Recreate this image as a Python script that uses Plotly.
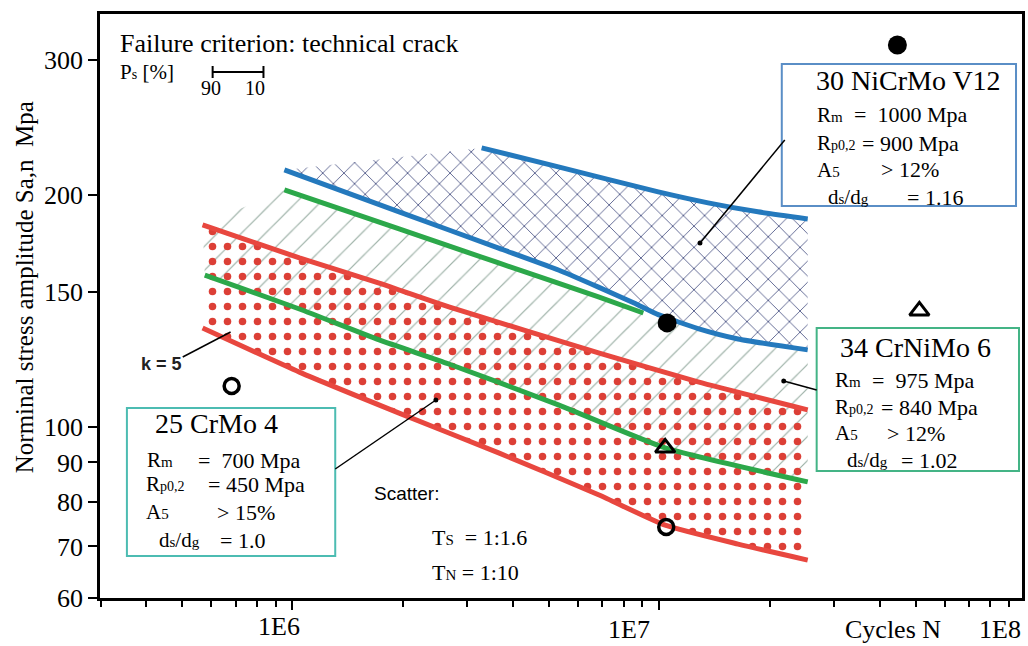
import math
import plotly.graph_objects as go

# ---- S-N scatter band limits: cycles N and nominal stress amplitude S (MPa) ----
# 30 NiCrMo V12
n_ni_upper = [3.28e6, 5.31e6, 9.94e6, 1.359e7, 1.858e7, 2.54e7]
s_ni_upper = [230.5, 217.8, 202.1, 195.6, 190.4, 186.4]
n_ni_lower = [9.51e5, 1.954e6, 3.65e6, 5.31e6, 6.83e6, 8.54e6, 9.94e6, 1.276e7, 1.64e7, 2.54e7]
s_ni_lower = [215.8, 190.4, 170.8, 160.0, 152.0, 145.0, 140.0, 134.3, 130.2, 126.0]
# 34 CrNiMo 6
n_crni_upper = [9.51e5, 1.954e6, 3.65e6, 6.83e6, 9.05e6]
s_crni_upper = [203.3, 180.9, 163.4, 147.6, 140.7]
n_crni_lower = [5.77e5, 1.045e6, 1.724e6, 2.67e6, 5.31e6, 1.038e7, 2.54e7]
s_crni_lower = [157.6, 142.4, 129.8, 120.8, 106.9, 94.0, 84.9]
# 25 CrMo 4
n_cr_upper = [5.69e5, 1.045e6, 1.724e6, 2.67e6, 6.83e6, 1.276e7, 2.54e7]
s_cr_upper = [183.1, 165.9, 153.9, 143.3, 124.9, 114.5, 105.3]
n_cr_lower = [5.69e5, 1.045e6, 1.954e6, 3.65e6, 6.83e6, 1.038e7, 1.64e7, 2.54e7]
s_cr_lower = [134.5, 117.9, 104.3, 92.6, 81.7, 74.6, 70.5, 67.2]

# ---- individual test results ----
n_solid = [4.46e7, 1.051e7]
s_solid = [313.6, 136.6]
n_triangle = [1.038e7, 5.12e7]
s_triangle = [94.0, 141.6]
n_ring = [1.045e7, 6.83e5]
s_ring = [74.2, 113.1]

# ---- axis ticks ----
y_ticks = [60, 70, 80, 90, 100, 150, 200, 300]
x_major = [1e6, 1e7]
x_minor = [k * 10 ** e for e in (5, 6, 7) for k in range(2, 10)]
x_labels = ["1E6", "1E7", "1E8"]

BLUE = "#2479bd"
GREEN = "#2ca84a"
RED = "#e8473f"
SERIF = "Liberation Serif, Times New Roman, serif"
SANS = "Liberation Sans, Arial, sans-serif"

# plot area in canvas pixels (left, top, width, height)
PL, PT, PW, PH = 100, 14, 925, 584


def fx(px):
    return (px - PL) / PW


def fy(py):
    return (PT + PH - py) / PH


fig = go.Figure()

# 34 CrNiMo 6 band (hatched): upper limit joins the 30 NiCrMo V12 lower limit
join = [i for i, n in enumerate(n_ni_lower) if n > n_crni_upper[-1]]
top_n = n_crni_upper + [n_ni_lower[i] for i in join]
top_s = s_crni_upper + [s_ni_lower[i] for i in join]
fig.add_trace(go.Scatter(
    x=top_n + n_crni_lower[::-1] + [n_cr_upper[0]],
    y=top_s + s_crni_lower[::-1] + [s_cr_upper[0]],
    mode="lines", fill="toself", line=dict(width=0),
    fillcolor="rgba(0,0,0,0)",
    fillpattern=dict(shape="/", size=17, solidity=0.07, fgopacity=1,
                     fgcolor="#9fb3a9", bgcolor="rgba(0,0,0,0)"),
    hoverinfo="skip"))

# 30 NiCrMo V12 band (cross-hatched)
fig.add_trace(go.Scatter(
    x=n_ni_upper + n_ni_lower[::-1],
    y=s_ni_upper + s_ni_lower[::-1],
    mode="lines", fill="toself", line=dict(width=0),
    fillcolor="rgba(0,0,0,0)",
    fillpattern=dict(shape="x", size=15, solidity=0.11, fgopacity=1,
                     fgcolor="#4a5384", bgcolor="rgba(0,0,0,0)"),
    hoverinfo="skip"))

# 25 CrMo 4 band (dotted)
fig.add_trace(go.Scatter(
    x=n_cr_upper + n_cr_lower[::-1],
    y=s_cr_upper + s_cr_lower[::-1],
    mode="lines", fill="toself", line=dict(width=0),
    fillcolor="rgba(0,0,0,0)",
    fillpattern=dict(shape=".", size=15, solidity=0.2, fgopacity=1,
                     fgcolor="#dc3f36", bgcolor="rgba(0,0,0,0)"),
    hoverinfo="skip"))

# band limit lines
for nx, sy, col in [
    (n_crni_upper, s_crni_upper, GREEN),
    (n_crni_lower, s_crni_lower, GREEN),
    (n_cr_upper, s_cr_upper, RED),
    (n_cr_lower, s_cr_lower, RED),
    (n_ni_upper, s_ni_upper, BLUE),
    (n_ni_lower, s_ni_lower, BLUE),
]:
    fig.add_trace(go.Scatter(x=nx, y=sy, mode="lines",
                             line=dict(color=col, width=5, shape="spline", smoothing=0.5),
                             hoverinfo="skip"))

# test points
fig.add_trace(go.Scatter(x=n_solid, y=s_solid, mode="markers",
                         marker=dict(symbol="circle", size=19, color="black")))
fig.add_trace(go.Scatter(x=n_ring, y=s_ring, mode="markers",
                         marker=dict(symbol="circle-open", size=15, color="black",
                                     line=dict(width=3.5, color="black"))))
fig.add_trace(go.Scatter(x=n_triangle, y=s_triangle, mode="markers",
                         marker=dict(symbol="triangle-up-open", size=17, color="black",
                                     line=dict(width=3, color="black"))))

shapes = []
annotations = []


def text(px, py, s, size, anchor="left", family=SERIF, color="black"):
    annotations.append(dict(x=fx(px), y=fy(py), xref="paper", yref="paper",
                            text=s, showarrow=False, xanchor=anchor, yanchor="middle",
                            font=dict(family=family, size=size, color=color)))


def seg(x0, y0, x1, y1, width=1.5, color="black"):
    shapes.append(dict(type="line", xref="paper", yref="paper",
                       x0=fx(x0), y0=fy(y0), x1=fx(x1), y1=fy(y1),
                       line=dict(color=color, width=width)))


def dot(px, py, r=2.5):
    shapes.append(dict(type="circle", xref="paper", yref="paper",
                       x0=fx(px - r), x1=fx(px + r), y0=fy(py + r), y1=fy(py - r),
                       fillcolor="black", line=dict(width=0)))


def box(x0, y0, x1, y1, color):
    shapes.append(dict(type="rect", xref="paper", yref="paper",
                       x0=fx(x0), y0=fy(y1), x1=fx(x1), y1=fy(y0),
                       fillcolor="white", line=dict(color=color, width=2), layer="above"))


def small(s, size=15):
    return f"<span style='font-size:{size}px'>{s}</span>"


# header
text(118, 43, "Failure criterion: technical crack", 26)
text(118, 72, "P" + small("s", 14) + " [%]", 21)
seg(213, 72, 264, 72, 2)
seg(213, 66, 213, 78, 2)
seg(264, 66, 264, 78, 2)
text(211, 88, "90", 20, "center")
text(256, 88, "10", 20, "center")

# slope note
text(162, 364, "<b>k = 5</b>", 18, "center", SANS, "#222")
seg(183, 357, 231, 332, 1.5)

# material boxes
materials = [
    dict(name="25 CrMo 4", rect=(127, 408, 336, 556), color="#4cbcb2", title=(217, 423),
         rows=[("R" + small("m"), 145, "=\u00a0 700 Mpa", 196, 460),
               ("R" + small("p0,2", 14), 144, "= 450 Mpa", 206, 484),
               ("A" + small("5"), 144, "> 15%", 215, 512),
               ("d" + small("s") + "/d" + small("g"), 157, "= 1.0", 218, 540)],
         lead=((336, 469), (437, 400))),
    dict(name="30 NiCrMo V12", rect=(784, 64, 1019, 206), color="#5a8ec6", title=(911, 80),
         rows=[("R" + small("m"), 817, "=\u00a0 1000 Mpa", 854, 115),
               ("R" + small("p0,2", 14), 817, "= 900 Mpa", 862, 143),
               ("A" + small("5"), 817, "> 12%", 882, 170),
               ("d" + small("s") + "/d" + small("g"), 828, "= 1.16", 908, 197)],
         lead=((787, 140), (702, 243))),
    dict(name="34 CrNiMo 6", rect=(819, 328, 1022, 471), color="#44b486", title=(918, 347),
         rows=[("R" + small("m"), 835, "=\u00a0 975 Mpa", 873, 380),
               ("R" + small("p0,2", 14), 835, "= 840 Mpa", 882, 407),
               ("A" + small("5"), 835, "> 12%", 888, 433),
               ("d" + small("s") + "/d" + small("g"), 847, "= 1.02", 902, 460)],
         lead=((819, 390), (786, 381))),
]
for m in materials:
    box(*m["rect"], m["color"])
    text(m["title"][0], m["title"][1], m["name"], 28, "center")
    for lab, lx, val, vx, ry in m["rows"]:
        text(lx, ry, lab, 21)
        text(vx, ry, val, 22)
    (ax, ay), (bx, by) = m["lead"]
    seg(ax, ay, bx, by, 1.5)
    dot(bx, by)

# scatter ratios
text(373, 493, "Scatter:", 19, family=SANS)
text(431, 537, "T" + small("S", 15) + "\u00a0 = 1:1.6", 22)
text(431, 572, "T" + small("N", 15) + " = 1:10", 22)

# axis labels
text(280, 626, x_labels[0], 26, "center")
text(631, 629, x_labels[1], 26, "center")
text(1003, 629, x_labels[2], 26, "center")
text(845, 629, "Cycles N", 26)
annotations.append(dict(x=fx(24), y=fy(287), xref="paper", yref="paper",
                        text="Norminal stress amplitude Sa,n\u00a0 Mpa", textangle=-90,
                        showarrow=False, xanchor="center", yanchor="middle",
                        font=dict(family=SERIF, size=25, color="black")))

fig.update_layout(
    width=1028, height=646,
    margin=dict(l=PL, r=1028 - PL - PW, t=PT, b=646 - PT - PH),
    paper_bgcolor="white", plot_bgcolor="white",
    showlegend=False, hovermode=False,
    shapes=shapes, annotations=annotations,
)
fig.update_xaxes(
    type="log", range=[5.4755, 7.989],
    showline=True, linecolor="black", linewidth=2.5, mirror=True,
    showgrid=False, zeroline=False,
    tickmode="array", tickvals=x_major, showticklabels=False,
    ticks="outside", ticklen=9, tickwidth=2, tickcolor="black",
    minor=dict(tickmode="array", tickvals=x_minor, ticks="outside", ticklen=6,
               tickwidth=2, tickcolor="black", showgrid=False),
)
fig.update_yaxes(
    type="log", range=[math.log10(60), 2.5366],
    showline=True, linecolor="black", linewidth=2.5, mirror=True,
    showgrid=False, zeroline=False,
    tickmode="array", tickvals=y_ticks, ticktext=[str(v) for v in y_ticks],
    ticks="outside", ticklen=9, tickwidth=2, tickcolor="black",
    tickfont=dict(family=SERIF, size=26, color="black"),
)

fig.write_html("out.html")
